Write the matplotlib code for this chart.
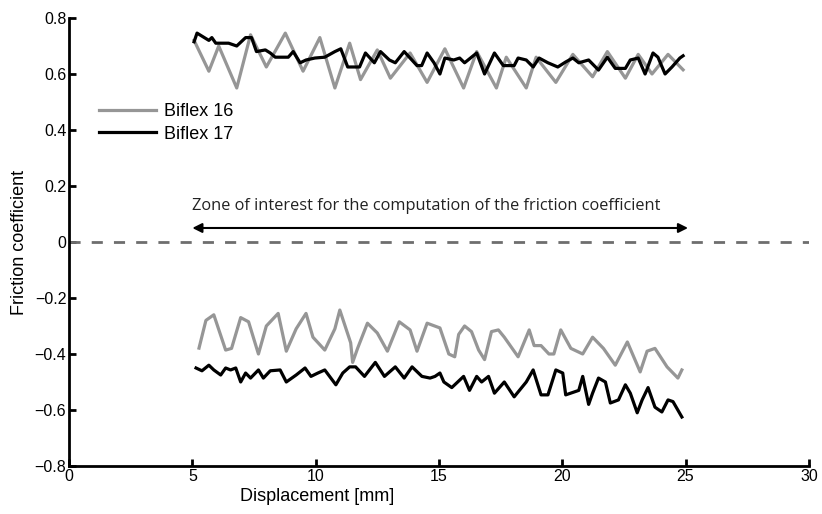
import matplotlib.pyplot as plt
import numpy as np

plt.rcParams['font.family'] = ['Liberation Sans', 'DejaVu Sans']

# Biflex 16, positive branch
x16_top = [5.07, 5.67, 6.07, 6.80, 7.36, 8.00, 8.77, 9.49, 10.17, 10.78, 11.38, 11.82,
           12.50, 13.03, 13.83, 14.52, 15.24, 16.00, 16.53, 17.33, 17.73, 18.54, 18.94,
           19.74, 20.43, 21.23, 21.83, 22.56, 23.08, 23.64, 24.29, 24.90]
y16_top = [0.72, 0.61, 0.70, 0.55, 0.74, 0.625, 0.746, 0.61, 0.73, 0.55, 0.71, 0.58,
           0.686, 0.585, 0.675, 0.57, 0.69, 0.55, 0.68, 0.55, 0.66, 0.55, 0.66,
           0.57, 0.67, 0.59, 0.68, 0.585, 0.67, 0.60, 0.67, 0.615]

# Biflex 17, positive branch
x17_top = [5.07, 5.19, 5.67, 5.79, 5.95, 6.47, 6.80, 7.16, 7.40, 7.60, 7.96, 8.16, 8.36,
           8.89, 9.09, 9.37, 9.61, 9.97, 10.37, 10.78, 11.02, 11.30, 11.78, 12.02, 12.38,
           12.63, 12.99, 13.23, 13.59, 13.83, 14.11, 14.30, 14.52, 14.80, 15.04, 15.24,
           15.60, 15.84, 16.04, 16.53, 16.85, 17.25, 17.61, 18.05, 18.21, 18.54, 18.82,
           19.06, 19.42, 19.82, 20.14, 20.43, 20.67, 21.07, 21.47, 21.83, 22.15, 22.56,
           22.76, 23.08, 23.36, 23.68, 23.88, 24.17, 24.45, 24.77, 24.90]
y17_top = [0.715, 0.746, 0.72, 0.73, 0.71, 0.71, 0.70, 0.73, 0.73, 0.68, 0.686, 0.675, 0.66,
           0.66, 0.68, 0.64, 0.65, 0.657, 0.66, 0.68, 0.69, 0.625, 0.625, 0.675, 0.64,
           0.68, 0.65, 0.64, 0.68, 0.657, 0.63, 0.63, 0.675, 0.64, 0.60, 0.657,
           0.65, 0.657, 0.64, 0.675, 0.60, 0.675, 0.63, 0.63, 0.657, 0.65, 0.625,
           0.657, 0.64, 0.625, 0.643, 0.657, 0.64, 0.65, 0.614, 0.66, 0.62, 0.62,
           0.65, 0.657, 0.60, 0.675, 0.66, 0.60, 0.625, 0.657, 0.665]

# Biflex 16, negative branch
x16_bot = [5.27, 5.55, 5.87, 6.35, 6.59, 6.96, 7.28, 7.68, 8.00, 8.48, 8.81, 9.21, 9.61,
           9.89, 10.37, 10.78, 10.98, 11.42, 11.50, 11.70, 12.10, 12.50, 12.91, 13.39,
           13.83, 14.11, 14.52, 15.04, 15.40, 15.64, 15.80, 16.04, 16.32, 16.61, 16.85,
           17.13, 17.41, 17.65, 18.21, 18.66, 18.86, 19.14, 19.46, 19.66, 19.94, 20.35,
           20.83, 21.23, 21.67, 22.15, 22.64, 23.16, 23.44, 23.76, 24.25, 24.69, 24.85]
y16_bot = [-0.379, -0.28, -0.26, -0.386, -0.38, -0.27, -0.285, -0.40, -0.30, -0.255, -0.39,
           -0.31, -0.255, -0.34, -0.386, -0.31, -0.243, -0.36, -0.43, -0.38, -0.29, -0.325,
           -0.39, -0.285, -0.314, -0.39, -0.29, -0.307, -0.40, -0.41, -0.33, -0.30, -0.32,
           -0.386, -0.42, -0.32, -0.314, -0.34, -0.41, -0.314, -0.37, -0.37, -0.40, -0.40,
           -0.314, -0.38, -0.40, -0.34, -0.38, -0.44, -0.357, -0.464, -0.39, -0.38, -0.446,
           -0.486, -0.457]

# Biflex 17, negative branch
x17_bot = [5.15, 5.39, 5.67, 5.87, 6.15, 6.35, 6.55, 6.76, 6.96, 7.16, 7.36, 7.68, 7.88,
           8.16, 8.56, 8.81, 9.21, 9.57, 9.81, 10.09, 10.37, 10.82, 11.10, 11.38, 11.62,
           11.98, 12.42, 12.79, 13.23, 13.59, 13.91, 14.31, 14.64, 14.84, 15.04, 15.20,
           15.52, 16.00, 16.24, 16.53, 16.73, 17.01, 17.25, 17.65, 18.05, 18.54, 18.82,
           19.14, 19.42, 19.74, 20.02, 20.14, 20.67, 20.83, 21.07, 21.23, 21.47, 21.75,
           21.95, 22.28, 22.56, 22.76, 23.04, 23.24, 23.48, 23.76, 24.04, 24.29, 24.49,
           24.85]
y17_bot = [-0.45, -0.46, -0.44, -0.457, -0.475, -0.45, -0.457, -0.45, -0.50, -0.468, -0.486,
           -0.457, -0.486, -0.46, -0.457, -0.50, -0.475, -0.45, -0.48, -0.468, -0.457, -0.51,
           -0.468, -0.446, -0.446, -0.48, -0.43, -0.48, -0.446, -0.486, -0.446, -0.48, -0.486,
           -0.48, -0.468, -0.50, -0.52, -0.48, -0.53, -0.48, -0.50, -0.48, -0.54, -0.50,
           -0.553, -0.50, -0.457, -0.546, -0.546, -0.457, -0.468, -0.546, -0.53, -0.48,
           -0.58, -0.54, -0.486, -0.50, -0.575, -0.564, -0.51, -0.54, -0.61, -0.564, -0.52,
           -0.59, -0.607, -0.564, -0.57, -0.625]

ytick_labels = ['\u22120.8', '\u22120.6', '\u22120.4', '\u22120.2', '0', '0.2', '0.4', '0.6', '0.8']

gray = '#969696'

fig = plt.figure(figsize=(8.22, 5.14), dpi=100)
ax = fig.add_axes([0.084, 0.0934, 0.9, 0.8716])

ax.plot(x16_top, y16_top, color=gray, lw=2.3, label='Biflex 16')
ax.plot(x17_top, y17_top, color='black', lw=2.3, label='Biflex 17')
ax.plot(x16_bot, y16_bot, color=gray, lw=2.3)
ax.plot(x17_bot, y17_bot, color='black', lw=2.3)

# zero line
ax.axhline(0, color='#6e6e6e', lw=2, dashes=(4, 4))

ax.annotate('', xy=(5.0, 0.05), xytext=(25.1, 0.05),
            arrowprops=dict(arrowstyle='<|-|>', color='black', lw=1.5,
                            mutation_scale=14, shrinkA=0, shrinkB=0))
ax.text(5.0, 0.13, 'Zone of interest for the computation of the friction coefficient',
        fontsize=11.8, ha='left', va='center', color='#222222',
        family=['Open Sans', 'DejaVu Sans'])

ax.set_xlim(0, 30)
ax.set_ylim(-0.8, 0.8)
ax.set_xticks(np.arange(0, 31, 5))
ax.set_yticks(np.arange(-0.8, 0.81, 0.2))
ax.set_yticklabels(ytick_labels)

ax.spines['top'].set_visible(False)
ax.spines['right'].set_visible(False)
ax.spines['left'].set_linewidth(2)
ax.spines['bottom'].set_linewidth(2)
ax.tick_params(direction='in', length=5, width=2, labelsize=11.5, pad=2)

ax.set_xlabel('Displacement [mm]', fontsize=13, labelpad=1)
ax.xaxis.set_label_coords(0.336, -0.05)
ax.set_ylabel('Friction coefficient', fontsize=13, labelpad=5)

ax.legend(loc='upper left', bbox_to_anchor=(0.04, 0.81), frameon=False,
          fontsize=13, handlelength=3.2, handletextpad=0.4, labelspacing=0.3,
          borderaxespad=0, borderpad=0)

fig.savefig('out.png', dpi=100)
